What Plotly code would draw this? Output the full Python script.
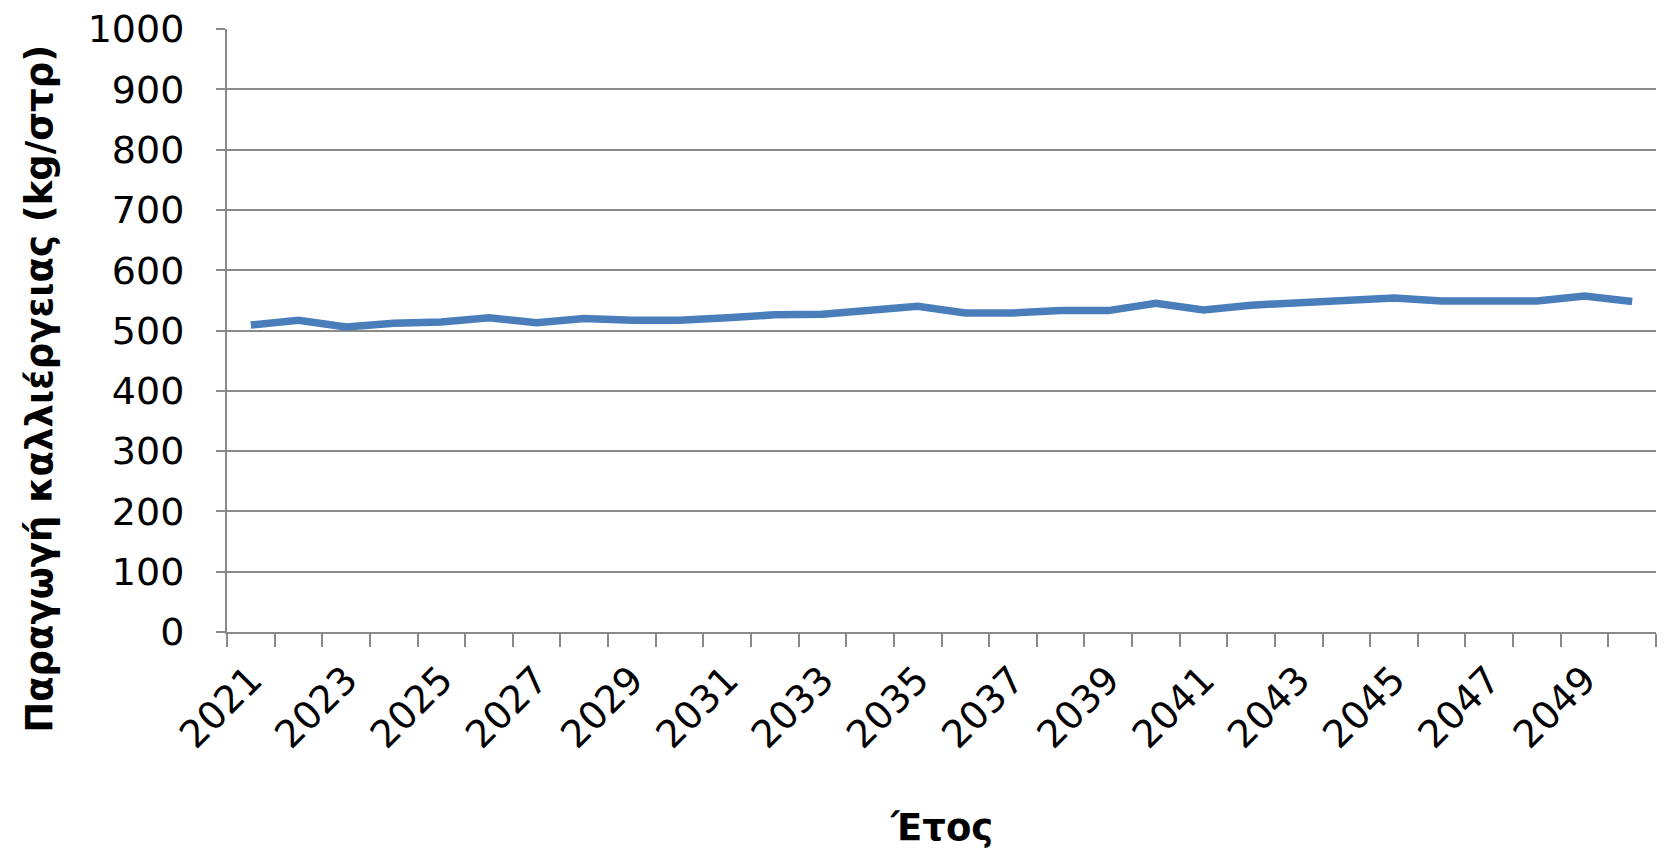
import plotly.graph_objects as go

# Annual crop yield projection (kg per stremma)
years = list(range(2021, 2051))
yield_kg = [509, 517, 506, 512, 514, 521, 513, 520, 517, 517,
            521, 526, 527, 532, 540, 529, 529, 533, 533, 545,
            534, 542, 546, 550, 554, 549, 549, 549, 557, 548]

label_years = list(range(2021, 2050, 2))
boundaries = [y - 0.5 for y in range(2021, 2052)]
y_ticks = list(range(0, 1001, 100))

axis_gray = "#8a8a8a"
font_family = "DejaVu Sans"

fig = go.Figure()
fig.add_trace(go.Scatter(
    x=years, y=yield_kg, mode="lines",
    line=dict(color="#4a7ebb", width=7.5),
    showlegend=False,
))

fig.update_layout(
    width=1673, height=850,
    margin=dict(l=227, r=17, t=29, b=218, autoexpand=False),
    plot_bgcolor="white", paper_bgcolor="white",
    font=dict(family=font_family, color="black", size=38),
)

fig.update_xaxes(
    range=[2020.5, 2050.5], automargin=False,
    tickmode="array", tickvals=label_years, ticktext=[str(v) for v in label_years],
    ticks="", tickangle=-45, ticklabelstandoff=8,
    tickfont=dict(size=38, family=font_family),
    showgrid=False, zeroline=False,
    showline=True, linecolor=axis_gray, linewidth=2,
    minor=dict(tickmode="array", tickvals=boundaries, ticks="outside",
               ticklen=13, tickcolor=axis_gray, tickwidth=2, showgrid=False),
)

fig.update_yaxes(
    range=[0, 1000], automargin=False,
    tickmode="array", tickvals=y_ticks,
    ticks="outside", ticklen=9, tickcolor=axis_gray, tickwidth=2,
    ticklabelstandoff=24,
    tickfont=dict(size=38, family=font_family),
    showgrid=True, gridcolor=axis_gray, gridwidth=2,
    zeroline=False, showline=True, linecolor=axis_gray, linewidth=2,
)

# Axis titles placed as annotations in paper coordinates
fig.add_annotation(
    text="<b>Παραγωγή καλλιέργειας (kg/στρ)</b>",
    xref="paper", yref="paper", x=-0.131, y=0.403,
    xanchor="center", yanchor="middle", textangle=-90, showarrow=False,
    font=dict(size=37, family=font_family, color="black"),
)
fig.add_annotation(
    text="<b>Έτος</b>",
    xref="paper", yref="paper", x=0.5, y=-0.325,
    xanchor="center", yanchor="middle", showarrow=False,
    font=dict(size=37, family=font_family, color="black"),
)

fig.write_html("out.html")
